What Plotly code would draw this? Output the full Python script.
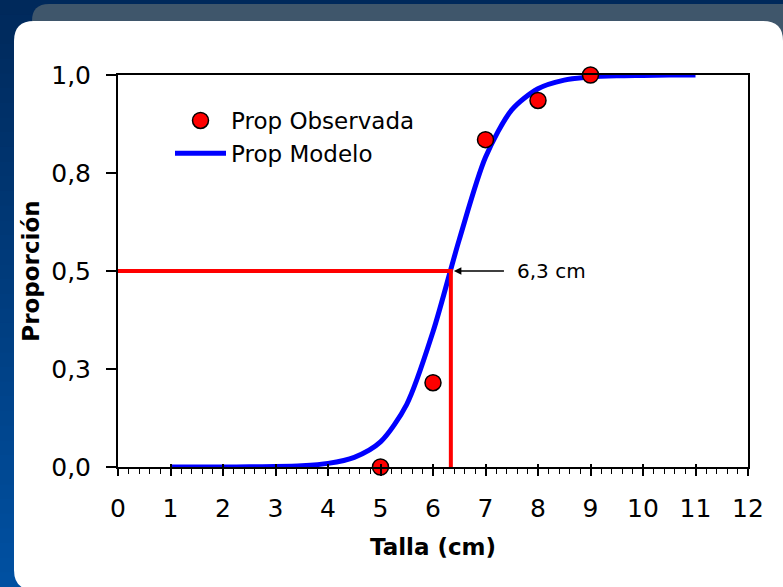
import plotly.graph_objects as go

# Canvas and plot-area geometry (pixels)
W, H = 783, 587
ML, MR, MT, MB = 118, 35, 75, 120

# Observed proportions by size class
talla_obs = [5, 6, 7, 8, 9]
prop_obs = [0.0, 0.215, 0.835, 0.935, 1.0]

# Fitted logistic model, tabulated every 0.5 cm
talla_mod = [1.0, 1.5, 2.0, 2.5, 3.0, 3.5, 4.0, 4.5, 5.0, 5.5, 6.0,
             6.5, 7.0, 7.5, 8.0, 8.5, 9.0, 9.5, 10.0, 10.5, 11.0]
prop_mod = [0.0, 0.0001, 0.0002, 0.0005, 0.0013, 0.0034, 0.0092, 0.0246,
            0.064, 0.16, 0.345, 0.58, 0.79, 0.911, 0.965, 0.987, 0.995,
            0.998, 0.999, 1.0, 1.0]

# Size at 50 % maturity
talla_50 = 6.34
prop_50 = 0.5

x_ticks = list(range(0, 13))
y_tickvals = [0.0, 0.25, 0.5, 0.75, 1.0]
y_ticktext = ["0,0", "0,3", "0,5", "0,8", "1,0"]

FONT = "DejaVu Sans"


def px_x(p):
    return (p - ML) / (W - ML - MR)


def px_y(p):
    return (H - MB - p) / (H - MT - MB)


def lerp(a, b, t):
    return tuple(round(a[i] + (b[i] - a[i]) * t) for i in range(3))


shapes = []

# Vertical navy-to-blue gradient behind everything
top_c, bot_c = (0, 41, 90), (0, 80, 162)
n_bands = 40
for i in range(n_bands):
    y0 = H * i / n_bands
    y1 = H * (i + 1) / n_bands + 1
    c = lerp(top_c, bot_c, (i + 0.5) / n_bands)
    shapes.append(dict(type="rect", xref="paper", yref="paper",
                       x0=px_x(-2), x1=px_x(W + 2), y0=px_y(y1), y1=px_y(y0),
                       fillcolor="rgb(%d,%d,%d)" % c, line_width=0,
                       layer="below"))


def rounded_path(x0, y0, x1, y1, r_tl, r_tr, r_bl, r_br):
    pts = [
        ("M", [(x0 + r_tl, y0)]),
        ("L", [(x1 - r_tr, y0)]),
        ("Q", [(x1, y0), (x1, y0 + r_tr)]),
        ("L", [(x1, y1 - r_br)]),
        ("Q", [(x1, y1), (x1 - r_br, y1)]),
        ("L", [(x0 + r_bl, y1)]),
        ("Q", [(x0, y1), (x0, y1 - r_bl)]),
        ("L", [(x0, y0 + r_tl)]),
        ("Q", [(x0, y0), (x0 + r_tl, y0)]),
    ]
    out = []
    for cmd, ps in pts:
        out.append(cmd + " ".join("%.5f,%.5f" % (px_x(a), px_y(b)) for a, b in ps))
    return " ".join(out) + " Z"


# Grey header band
shapes.append(dict(type="path", xref="paper", yref="paper",
                   path=rounded_path(32, 4, W + 30, 60, 17, 0, 0, 0),
                   fillcolor="#3f566b", line_width=0, layer="below"))
# White rounded panel
shapes.append(dict(type="path", xref="paper", yref="paper",
                   path=rounded_path(14, 21, W, H + 3, 20, 20, 20, 0),
                   fillcolor="#ffffff", line_width=0, layer="below"))

fig = go.Figure()

fig.add_trace(go.Scatter(
    x=talla_mod, y=prop_mod, mode="lines", name="Prop Modelo",
    line=dict(color="#0000ff", width=5, shape="spline", smoothing=0.8),
    cliponaxis=False, legendrank=2, legendgroup="m",
))

# Reference lines at the 50 % size
fig.add_trace(go.Scatter(
    x=[0, talla_50, talla_50], y=[prop_50, prop_50, 0], mode="lines",
    line=dict(color="#ff0000", width=4), showlegend=False, hoverinfo="skip",
    cliponaxis=False,
))

fig.add_trace(go.Scatter(
    x=talla_obs, y=prop_obs, mode="markers", name="Prop Observada",
    marker=dict(color="#ff0000", size=16,
                line=dict(color="#000000", width=1.5)),
    cliponaxis=False, legendrank=1, legendgroup="o",
))

# Empty trace so the overlay axis (inner half of major ticks) is drawn
fig.add_trace(go.Scatter(x=[], y=[], xaxis="x2", showlegend=False))

label_50 = f"{talla_50:.1f}".replace(".", ",") + " cm"

fig.add_annotation(x=talla_50, y=prop_50, ax=7.38, ay=prop_50,
                   xref="x", yref="y", axref="x", ayref="y", text="",
                   showarrow=True, arrowhead=2, arrowsize=1, arrowwidth=1.5,
                   arrowcolor="#000000", standoff=3)
fig.add_annotation(x=7.56, y=prop_50, xref="x", yref="y", text=label_50,
                   showarrow=False, xanchor="left", yanchor="middle",
                   font=dict(family=FONT, size=20, color="#000000"))

fig.update_layout(
    width=W, height=H, autosize=False,
    margin=dict(l=ML, r=MR, t=MT, b=MB, pad=0),
    paper_bgcolor="#003366", plot_bgcolor="#ffffff",
    font=dict(family=FONT, size=23, color="#000000"),
    shapes=shapes,
    showlegend=True,
    legend=dict(x=px_x(170), y=px_y(99), xanchor="left", yanchor="top",
                bgcolor="rgba(0,0,0,0)", borderwidth=0,
                font=dict(family=FONT, size=23, color="#000000"),
                itemwidth=51, tracegroupgap=8, traceorder="normal"),
    xaxis=dict(
        range=[0, 12], tickvals=x_ticks, ticks="outside", ticklen=7,
        tickwidth=1.5, tickcolor="#000000", showline=True, linewidth=2,
        linecolor="#000000", mirror=True, showgrid=False, zeroline=False,
        tickfont=dict(family=FONT, size=25), ticklabelstandoff=11,
        minor=dict(dtick=0.2, ticks="outside", ticklen=5, tickwidth=1.2,
                   tickcolor="#000000", showgrid=False),
        title=dict(text="<b>Talla (cm)</b>", standoff=17,
                   font=dict(family=FONT, size=23)),
        fixedrange=True,
    ),
    xaxis2=dict(
        overlaying="x", matches="x", range=[0, 12], tickvals=x_ticks,
        ticks="inside", ticklen=3, tickwidth=1.5, tickcolor="#000000",
        showticklabels=False, showline=False, showgrid=False,
        zeroline=False, side="bottom", anchor="y",
    ),
    yaxis=dict(
        range=[0, 1], tickvals=y_tickvals, ticktext=y_ticktext,
        ticks="outside", ticklen=10, tickwidth=1.5, tickcolor="#000000",
        showline=True, linewidth=2, linecolor="#000000", mirror=True,
        showgrid=False, zeroline=False,
        tickfont=dict(family=FONT, size=25), ticklabelstandoff=10,
        title=dict(text="<b>Proporción</b>", standoff=5,
                   font=dict(family=FONT, size=23)),
        fixedrange=True,
    ),
)

fig.write_html("out.html")
